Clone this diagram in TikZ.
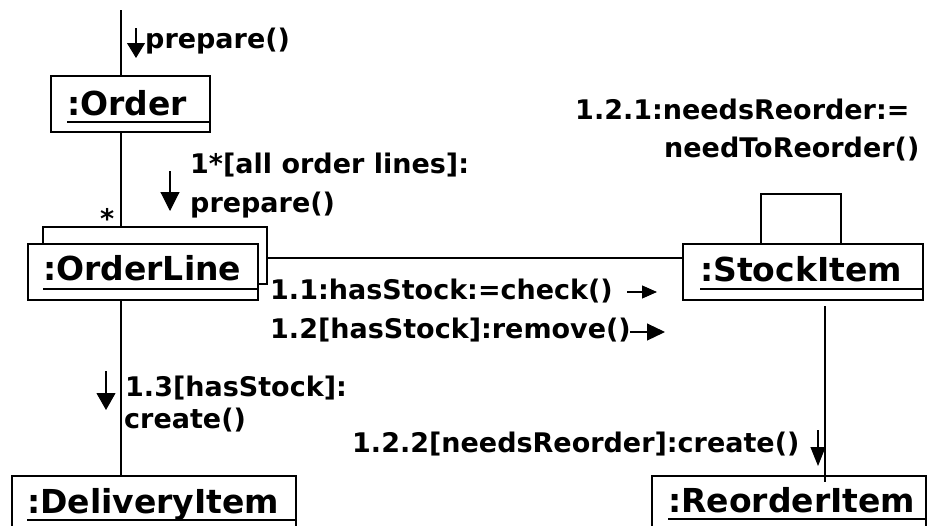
\documentclass[tikz,border=0pt]{standalone}
\usepackage{fontspec}
\setmainfont{DejaVu Sans}
\usetikzlibrary{arrows.meta}
\tikzset{
  obj/.style={draw, line width=1.8pt, fill=white, rectangle, inner sep=0pt, anchor=north west},
  objlabel/.style={anchor=base west, inner sep=0pt, font=\bfseries\fontsize{33}{38}\selectfont},
  msg/.style={anchor=base west, inner sep=0pt, font=\bfseries\fontsize{27}{32}\selectfont},
  link/.style={line width=1.1pt},
  uline/.style={line width=1.8pt},
  call/.style={line width=1.1pt, -{Triangle[length=#1]}},
}
\begin{document}
\begin{tikzpicture}[x=1pt,y=-1pt]
\useasboundingbox (0,0) rectangle (928,525);
% objects
\node[obj, minimum width=159pt, minimum height=56pt] (order) at (50,75) {};
\node[objlabel] (ordert) at (67,115) {:Order};
\draw[uline] (67,122) -- (order.east |- 0,122);

\node[obj, minimum width=224pt, minimum height=57pt] (olback) at (42,226) {};
\node[obj, minimum width=230pt, minimum height=56pt] (ol) at (27,243) {};
\node[objlabel] (olt) at (43,280) {:OrderLine};
\draw[uline] (43,289) -- (ol.east |- 0,289);

\node[obj, minimum width=240pt, minimum height=56pt] (stock) at (682,243) {};
\node[objlabel] (stockt) at (700,281) {:StockItem};
\draw[uline] (700,289) -- (stock.east |- 0,289);

\node[obj, minimum width=284pt, minimum height=70pt] (deliv) at (11,475) {};
\node[objlabel] (delivt) at (27,513) {:DeliveryItem};
\draw[uline] (27,520) -- (deliv.east |- 0,520);

\node[obj, minimum width=274pt, minimum height=70pt] (reord) at (651,475) {};
\node[objlabel] (reordt) at (668,512) {:ReorderItem};
\draw[uline] (668,519) -- (reord.east |- 0,519);

% links
\coordinate (in) at (121,10);
\coordinate (hy) at (0,258);
\coordinate (sx) at (825,0);
\draw[link] (in) -- (in |- order.north);
\draw[link] (order.south -| in) -- (olback.north -| in);
\draw[link] (ol.south -| in) -- (deliv.north -| in);
\draw[link] (hy -| olback.east) -- (hy -| stock.west);
\coordinate (s1) at (825,306);
\coordinate (s2) at (825,482);
\draw[link] (s1) -- (s2);
\coordinate (l1) at (761,243);
\coordinate (l2) at (841,243);
\draw[link] (l1) -- (761,194) -- (841,194) -- (l2);

% messages
\node[msg] (m0) at (145,48) {prepare()};
\coordinate (a0s) at (136,28); \coordinate (a0e) at (136,58);
\draw[line width=1.1pt, -{Triangle[length=15pt,width=18pt]}] (a0s) -- (a0e);

\node[msg] (m1a) at (190,173) {1*[all order lines]:};
\node[msg] (m1b) at (190,212) {prepare()};
\coordinate (a1s) at (170,171); \coordinate (a1e) at (170,211);
\draw[line width=1.1pt, -{Triangle[length=19pt,width=19pt]}] (a1s) -- (a1e);

\node[msg] (star) at (100,228) {*};

\node[msg] (m121a) at (575,119) {1.2.1:needsReorder:=};
\node[msg] (m121b) at (664,157) {needToReorder()};

\node[msg] (m11) at (270,299) {1.1:hasStock:=check()};
\coordinate (a11s) at (627,292); \coordinate (a11e) at (657,292);
\draw[line width=1.1pt, -{Triangle[length=15pt,width=13pt]}] (a11s) -- (a11e);

\node[msg] (m12) at (270,338) {1.2[hasStock]:remove()};
\coordinate (a12s) at (630,332); \coordinate (a12e) at (665,332);
\draw[line width=1.1pt, -{Triangle[length=18pt,width=17pt]}] (a12s) -- (a12e);

\node[msg] (m13a) at (125,396) {1.3[hasStock]:};
\node[msg] (m13b) at (124,428) {create()};
\coordinate (a13s) at (106,371); \coordinate (a13e) at (106,410);
\draw[line width=1.1pt, -{Triangle[length=17pt,width=19pt]}] (a13s) -- (a13e);

\node[msg] (m122) at (352,452) {1.2.2[needsReorder]:create()};
\coordinate (a122s) at (818,430); \coordinate (a122e) at (818,466);
\draw[line width=1.1pt, -{Triangle[length=19pt,width=15pt]}] (a122s) -- (a122e);
\end{tikzpicture}
\end{document}
